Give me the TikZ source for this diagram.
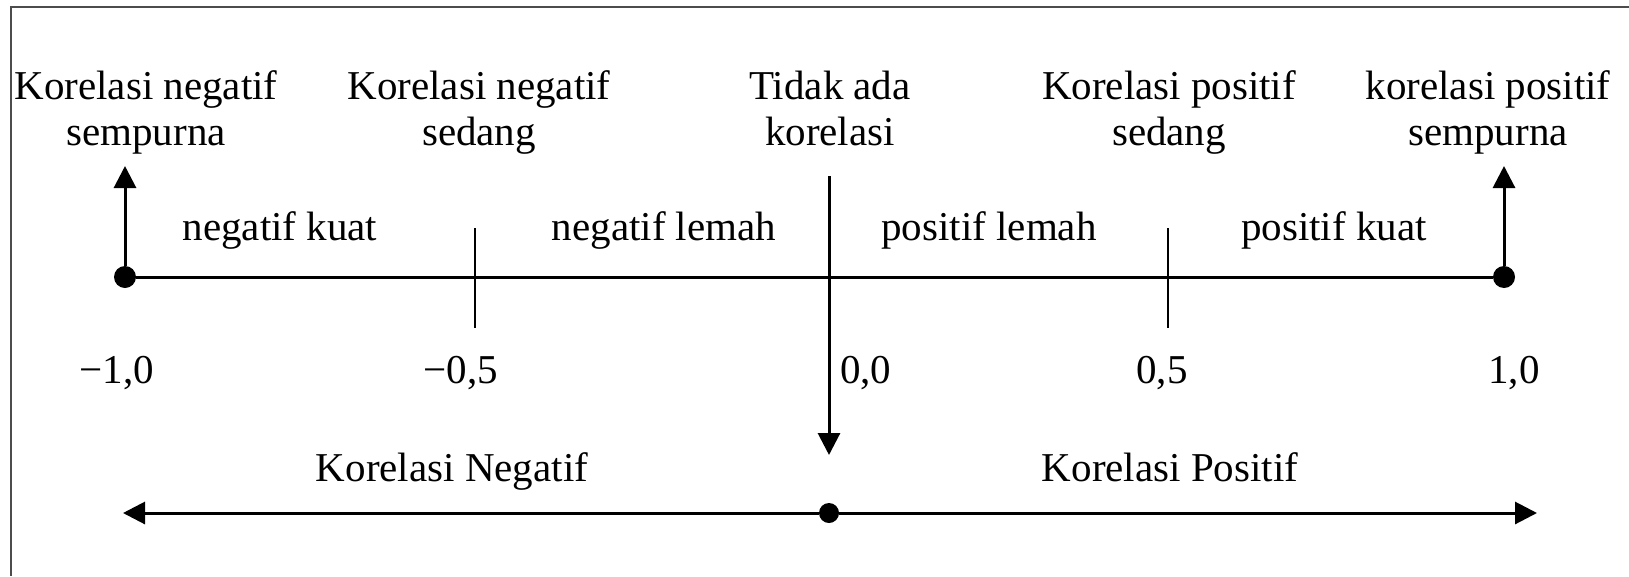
\documentclass[tikz,border=0pt]{standalone}
\usepackage{fontspec}
\setmainfont{Liberation Serif}
\usetikzlibrary{arrows.meta, positioning}

\begin{document}
\begin{tikzpicture}[
        x=1pt, y=-1pt, >={Triangle[length=22pt,width=22pt]},
        every node/.style={inner sep=0pt, font=\fontsize{41}{46}\selectfont},
        dot/.style={circle, fill, minimum size=22pt},
        axis/.style={line width=3pt},
        tick/.style={line width=2pt},
        lbl/.style={anchor=base},
        head/.style={align=center, anchor=base}
        ]

        \useasboundingbox (0,0) rectangle (1629,576);
        \draw[line width=2pt, black!70] (11,576) -- (11,7) -- (1629,7);

        % skala korelasi
        \node[dot] (d_m1) at (125,277) {};
        \node[dot] (d_p1) at (1504,277) {};
        \coordinate (up_m1) at (125,166);
        \coordinate (up_p1) at (1504,166);
        \coordinate (z_top) at (829,176);
        \coordinate (z_bot) at (829,455);
        \coordinate (t_m05a) at (475,228);
        \coordinate (t_m05b) at (475,328);
        \coordinate (t_p05a) at (1168,228);
        \coordinate (t_p05b) at (1168,328);

        \draw[axis] (d_m1) -- (d_p1);
        \draw[axis,->] (d_m1) -- (up_m1);
        \draw[axis,->] (d_p1) -- (up_p1);
        \draw[axis,->] (z_top) -- (z_bot);
        \draw[tick] (t_m05a) -- (t_m05b);
        \draw[tick] (t_p05a) -- (t_p05b);

        \node[head] (h_m1)  at (146,145)  {Korelasi negatif\\sempurna};
        \node[head] (h_m05) at (479,145)  {Korelasi negatif\\sedang};
        \node[head] (h_0)   at (830,145)  {Tidak ada\\korelasi};
        \node[head] (h_p05) at (1169,145) {Korelasi positif\\sedang};
        \node[head] (h_p1)  at (1488,145) {korelasi positif\\sempurna};

        \node[lbl] (s_nk) at (280,240)  {negatif kuat};
        \node[lbl] (s_nl) at (664,240)  {negatif lemah};
        \node[lbl] (s_pl) at (989,240)  {positif lemah};
        \node[lbl] (s_pk) at (1334,240) {positif kuat};

        \node[lbl] (v_m1)  at (117,383)  {−1,0};
        \node[lbl] (v_m05) at (461,383)  {−0,5};
        \node[lbl, anchor=base west] (v_0) at (840,383) {0,0};
        \node[lbl] (v_p05) at (1162,383) {0,5};
        \node[lbl] (v_p1)  at (1514,383) {1,0};

        % arah korelasi
        \node[dot, minimum size=20pt] (b_0) at (829,513) {};
        \coordinate (b_l) at (123,513);
        \coordinate (b_r) at (1537,513);
        \draw[axis,->] (b_0) -- (b_l);
        \draw[axis,->] (b_0) -- (b_r);

        \node[lbl] (k_neg) at (452,481)  {Korelasi Negatif};
        \node[lbl] (k_pos) at (1170,481) {Korelasi Positif};
      \end{tikzpicture}
\end{document}
